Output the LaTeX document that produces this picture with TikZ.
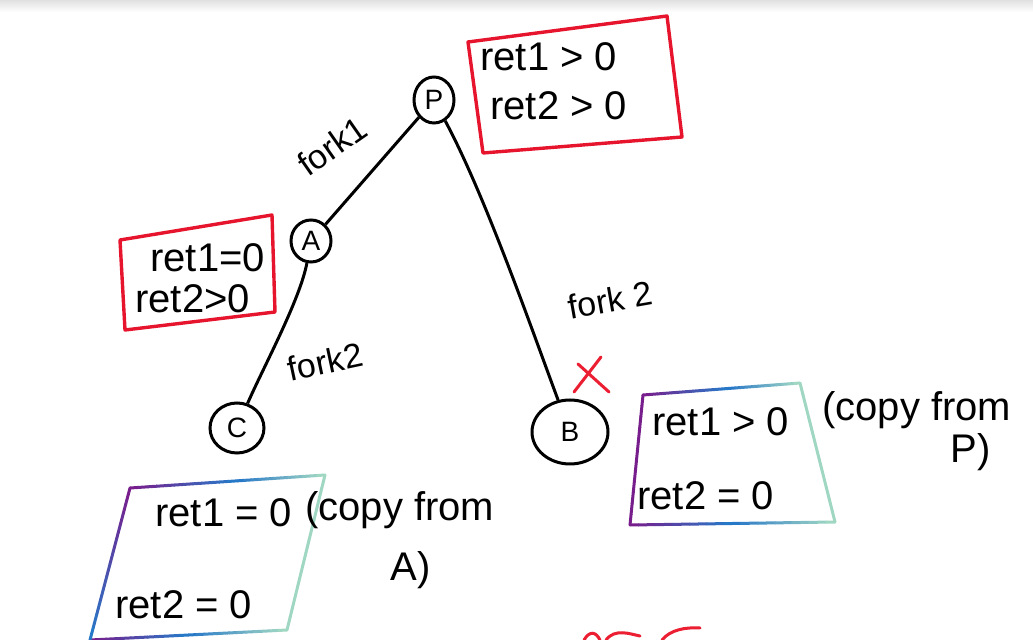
\documentclass[tikz,border=0pt]{standalone}
\usepackage{fontspec}
\setmainfont{Liberation Sans}
\usetikzlibrary{shapes.geometric,calc}
\definecolor{redbox}{RGB}{230,20,45}
\definecolor{gpurple}{RGB}{120,30,140}
\definecolor{gblue}{RGB}{40,120,200}
\definecolor{gteal}{RGB}{160,215,195}
\definecolor{xred}{RGB}{235,30,50}
\newcommand\gradseg[4]{%
  \foreach \i in {0,...,11}{%
    \pgfmathtruncatemacro\pc{100-100*\i/11}%
    \draw[gradline,color=#3!\pc!#4] ($(#1)!\i/12!(#2)$) -- ($(#1)!\i/12+1/12!(#2)$);
  }}
\begin{document}
\begin{tikzpicture}[x=0.5pt,y=-0.5pt,
  vtx/.style={draw,ellipse,line width=1.5pt,inner sep=0pt,font=\fontsize{14}{14}\selectfont},
  edge/.style={line width=1.5pt},
  boxtext/.style={font=\fontsize{20}{22}\selectfont,inner sep=0pt,anchor=west},
  lbl/.style={font=\fontsize{17}{18}\selectfont,inner sep=0pt},
  redframe/.style={draw=redbox,line width=1.7pt,line join=round},
  gradline/.style={line width=1.5pt,line cap=round},
  redmark/.style={draw=xred,line width=1.5pt,line cap=round}]
\useasboundingbox (0,0) rectangle (1033,640);
\fill[top color=black!12,bottom color=white] (0,0) rectangle (1033,12);

% vertices
\node[vtx,minimum width=20pt,minimum height=23pt] (P) at (434,100) {P};
\node[vtx,minimum width=20pt,minimum height=21pt] (A) at (311,241) {A};
\node[vtx,minimum width=27pt,minimum height=25pt] (C) at (237,428) {C};
\node[vtx,minimum width=38pt,minimum height=32pt] (B) at (570,432) {B};

% edges
\draw[edge] (P) -- (A);
\draw[edge] (P) .. controls (485,195) and (532,330) .. (B);
\draw[edge] (A) .. controls (300,300) and (262,370) .. (C);

% edge labels
\node[lbl,rotate=35] (f1) at (332,146) {fork1};
\node[lbl,rotate=12] (f2) at (325,362) {fork2};
\node[lbl,rotate=10] (f3) at (610,300) {fork 2};

% red X
\coordinate (x1) at (578,364);
\coordinate (x2) at (609,392);
\coordinate (x3) at (574,392);
\coordinate (x4) at (601,357);
\draw[redmark] (x1) -- (x2);
\draw[redmark] (x3) -- (x4);

% P box
\coordinate (p1) at (468,42);
\coordinate (p2) at (667,16);
\coordinate (p3) at (682,137);
\coordinate (p4) at (483,153);
\draw[redframe] (p1) -- (p2) -- (p3) -- (p4) -- cycle;
\node[boxtext] (pt1) at (480,57) {ret1 > 0};
\node[boxtext] (pt2) at (490,106) {ret2 > 0};

% A box
\coordinate (a1) at (120,240);
\coordinate (a2) at (272,215);
\coordinate (a3) at (275,312);
\coordinate (a4) at (125,330);
\draw[redframe] (a1) -- (a2) -- (a3) -- (a4) -- cycle;
\node[boxtext] (at1) at (150,258) {ret1=0};
\node[boxtext] (at2) at (135,299) {ret2>0};

% B box
\coordinate (b1) at (643,395);
\coordinate (b2) at (800,383);
\coordinate (b3) at (835,522);
\coordinate (b4) at (630,525);
\coordinate (bm) at ($(b1)!0.55!(b2)$);
\coordinate (bn) at ($(b4)!0.5!(b3)$);
\gradseg{b1}{bm}{gpurple}{gblue}
\gradseg{bm}{b2}{gblue}{gteal}
\gradseg{b2}{b3}{gteal}{gteal}
\gradseg{b4}{bn}{gpurple}{gblue}
\gradseg{bn}{b3}{gblue}{gteal}
\gradseg{b1}{b4}{gpurple}{gpurple}
\node[boxtext] (bt1) at (652,422) {ret1 > 0};
\node[boxtext] (bt2) at (637,496) {ret2 = 0};
\node[boxtext] (bc1) at (822,410) {(copy from};
\node[boxtext] (bc2) at (950,452) {P)};

% C box
\coordinate (c1) at (130,488);
\coordinate (c2) at (325,475);
\coordinate (c3) at (287,630);
\coordinate (c4) at (90,640);
\coordinate (cm) at ($(c1)!0.55!(c2)$);
\coordinate (cn) at ($(c4)!0.5!(c3)$);
\gradseg{c1}{cm}{gpurple}{gblue}
\gradseg{cm}{c2}{gblue}{gteal}
\gradseg{c2}{c3}{gteal}{gteal}
\gradseg{c4}{cn}{gpurple}{gblue}
\gradseg{cn}{c3}{gblue}{gteal}
\gradseg{c1}{c4}{gpurple}{gblue}
\node[boxtext] (ct1) at (155,513) {ret1 = 0};
\node[boxtext] (ct2) at (115,605) {ret2 = 0};
\node[boxtext] (cc1) at (305,510) {(copy from};
\node[boxtext] (cc2) at (390,570) {A)};

% red scribble at the bottom edge
\draw[redmark] (584,640) .. controls (590,630) and (596,632) .. (600,640);
\draw[redmark] (606,640) .. controls (615,628) and (630,634) .. (640,636);
\draw[redmark] (662,640) .. controls (670,630) and (685,627) .. (700,628);
\end{tikzpicture}
\end{document}
